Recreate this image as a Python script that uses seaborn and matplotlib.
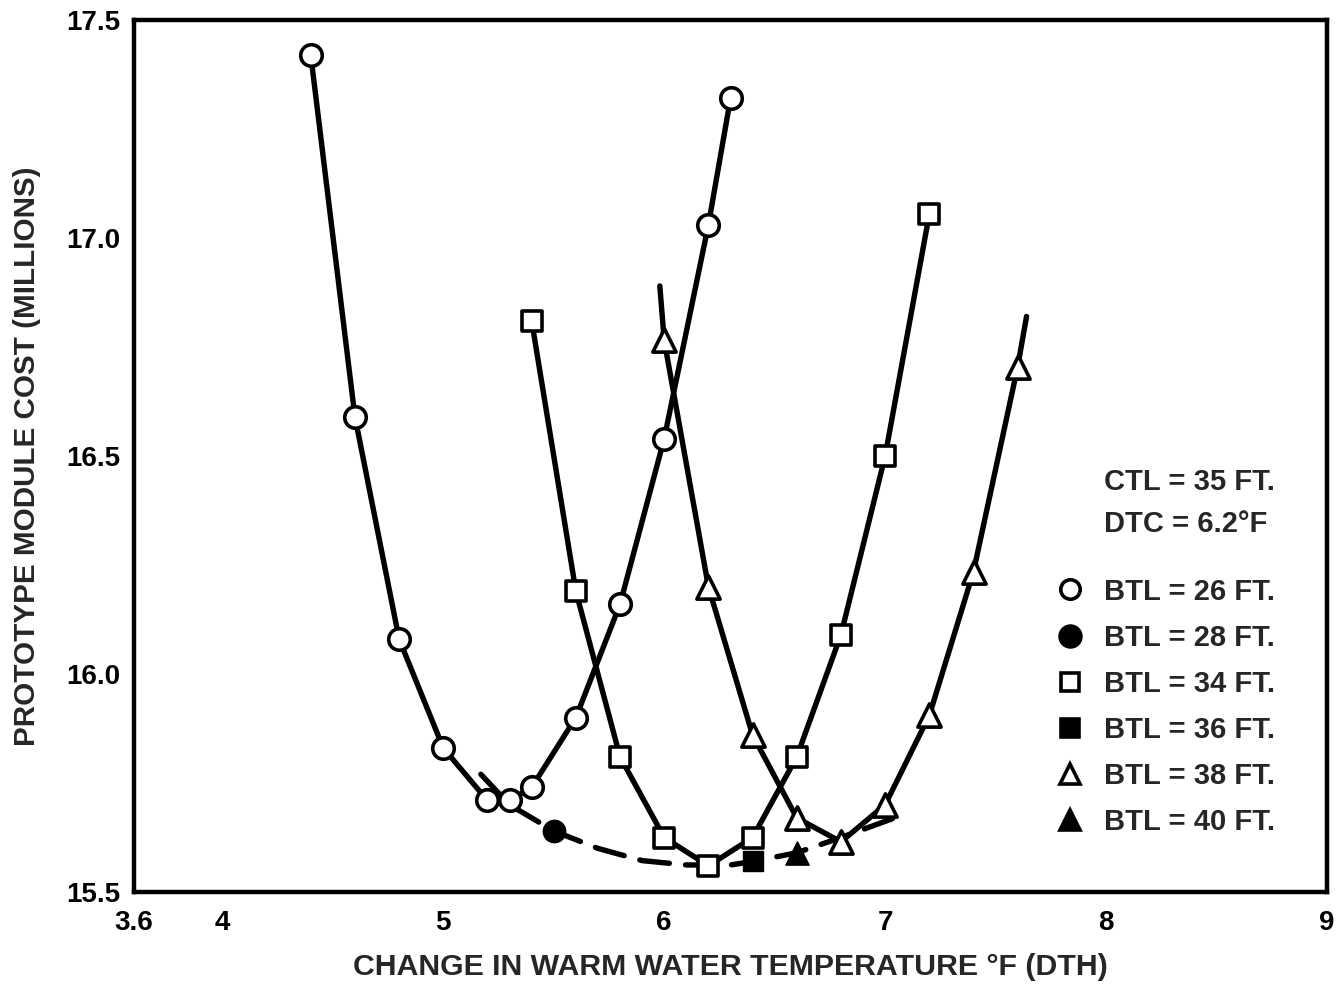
import matplotlib
matplotlib.use("Agg")
import matplotlib.pyplot as plt
import seaborn as sns
from matplotlib.lines import Line2D

# ---- data ----
# BTL = 26 FT. (open circles)
btl26_x = [4.4, 4.6, 4.8, 5.0, 5.2, 5.3, 5.4, 5.6, 5.8, 6.0, 6.2, 6.3]
btl26_y = [17.42, 16.59, 16.08, 15.83, 15.71, 15.71, 15.74, 15.90, 16.16, 16.54, 17.03, 17.32]
# BTL = 34 FT. (open squares)
btl34_x = [5.4, 5.6, 5.8, 6.0, 6.2, 6.4, 6.6, 6.8, 7.0, 7.2]
btl34_y = [16.81, 16.19, 15.81, 15.625, 15.56, 15.625, 15.81, 16.09, 16.50, 17.055]
# BTL = 38 FT. (open triangles)
btl38_x = [6.0, 6.2, 6.4, 6.6, 6.8, 7.0, 7.2, 7.4, 7.6]
btl38_y = [16.765, 16.20, 15.86, 15.67, 15.615, 15.70, 15.905, 16.235, 16.705]
# BTL = 38 curve (drawn a bit beyond its markers)
btl38_curve_x = [5.98] + btl38_x + [7.64]
btl38_curve_y = [16.89] + btl38_y + [16.82]
# filled points: BTL = 28, 36, 40 FT.
btl28_x, btl28_y = [5.5], [15.64]
btl36_x, btl36_y = [6.4], [15.57]
btl40_x, btl40_y = [6.6], [15.59]
# dashed envelope of minima
env_x = [5.17, 5.3, 5.5, 5.7, 5.9, 6.1, 6.3, 6.4, 6.6, 6.8, 7.07]
env_y = [15.77, 15.70, 15.64, 15.60, 15.572, 15.562, 15.562, 15.57, 15.59, 15.625, 15.675]

x_ticks = [3.6, 4, 5, 6, 7, 8, 9]
x_tick_labels = ["3.6", "4", "5", "6", "7", "8", "9"]
y_ticks = [15.5, 16.0, 16.5, 17.0, 17.5]
y_tick_labels = ["15.5", "16.0", "16.5", "17.0", "17.5"]

legend_labels = ["BTL = 26 FT.", "BTL = 28 FT.", "BTL = 34 FT.",
                 "BTL = 36 FT.", "BTL = 38 FT.", "BTL = 40 FT."]
note_lines = ["CTL = 35 FT.", "DTC = 6.2°F"]

# ---- style ----
sns.set_style("white")
plt.rcParams['font.family'] = ['Liberation Sans', 'DejaVu Sans']
plt.rcParams['font.weight'] = 'bold'

fig = plt.figure(figsize=(13.36, 9.84), dpi=100)
ax = fig.add_axes([134 / 1336, 1 - 892 / 984, (1327 - 134) / 1336, (892 - 20) / 984])

LW = 3.9
kw_line = dict(color='black', lw=LW, sort=False, estimator=None, ax=ax, legend=False)
sns.lineplot(x=btl26_x, y=btl26_y, **kw_line)
sns.lineplot(x=btl34_x, y=btl34_y, **kw_line)
sns.lineplot(x=btl38_curve_x, y=btl38_curve_y, **kw_line)
sns.lineplot(x=env_x, y=env_y, dashes=(5.5, 3.0), dash_capstyle='round', **kw_line)

EW = 2.6
sns.scatterplot(x=btl26_x, y=btl26_y, marker='o', s=240, color='white',
                edgecolor='black', linewidth=EW, zorder=3, ax=ax, legend=False)
sns.scatterplot(x=btl34_x, y=btl34_y, marker='s', s=220, color='white',
                edgecolor='black', linewidth=EW, zorder=3, ax=ax, legend=False)
sns.scatterplot(x=btl38_x, y=btl38_y, marker='^', s=280, color='white',
                edgecolor='black', linewidth=EW, zorder=3, ax=ax, legend=False)
sns.scatterplot(x=btl28_x, y=btl28_y, marker='o', s=260, color='black',
                edgecolor='black', linewidth=1, zorder=3, ax=ax, legend=False)
sns.scatterplot(x=btl36_x, y=btl36_y, marker='s', s=220, color='black',
                edgecolor='black', linewidth=1, zorder=3, ax=ax, legend=False)
sns.scatterplot(x=btl40_x, y=btl40_y, marker='^', s=280, color='black',
                edgecolor='black', linewidth=1, zorder=3, ax=ax, legend=False)

ax.set_xlim(3.6, 9.0)
ax.set_ylim(15.5, 17.5)
ax.set_xticks(x_ticks)
ax.set_xticklabels(x_tick_labels)
ax.set_yticks(y_ticks)
ax.set_yticklabels(y_tick_labels)
ax.tick_params(axis='both', direction='in', length=16, width=2.4, color='black',
               labelsize=20, labelcolor='black')
ax.tick_params(axis='x', pad=13)
ax.tick_params(axis='y', pad=10)
for lab in ax.get_xticklabels() + ax.get_yticklabels():
    lab.set_fontweight('bold')
for sp in ax.spines.values():
    sp.set_visible(True)
    sp.set_color('black')
    sp.set_linewidth(3.2)

ax.set_xlabel("CHANGE IN WARM WATER TEMPERATURE °F (DTH)", fontsize=21.8,
              fontweight='bold', labelpad=12)
ax.set_ylabel("PROTOTYPE MODULE COST (MILLIONS)", fontsize=21.3,
              fontweight='bold', labelpad=18)

# notes
ax.text(0.813, (892 - 482) / 872, note_lines[0], transform=ax.transAxes,
        fontsize=21, fontweight='bold', va='center', ha='left')
ax.text(0.813, (892 - 524) / 872, note_lines[1], transform=ax.transAxes,
        fontsize=21, fontweight='bold', va='center', ha='left')

# legend
def h(marker, filled, ms):
    return Line2D([], [], ls='none', marker=marker, markersize=ms,
                  markerfacecolor='black' if filled else 'white',
                  markeredgecolor='black', markeredgewidth=2.6)

handles = [h('o', False, 14), h('o', True, 15), h('s', False, 13),
           h('s', True, 13), h('^', False, 15), h('^', True, 15)]
leg = ax.legend(handles, legend_labels, loc='upper left',
                bbox_to_anchor=(0.771, 0.3605), frameon=False,
                fontsize=21, handlelength=1.1, handletextpad=0.62,
                labelspacing=0.62, borderpad=0, borderaxespad=0)
for t in leg.get_texts():
    t.set_fontweight('bold')

fig.savefig("out.png", dpi=100)
